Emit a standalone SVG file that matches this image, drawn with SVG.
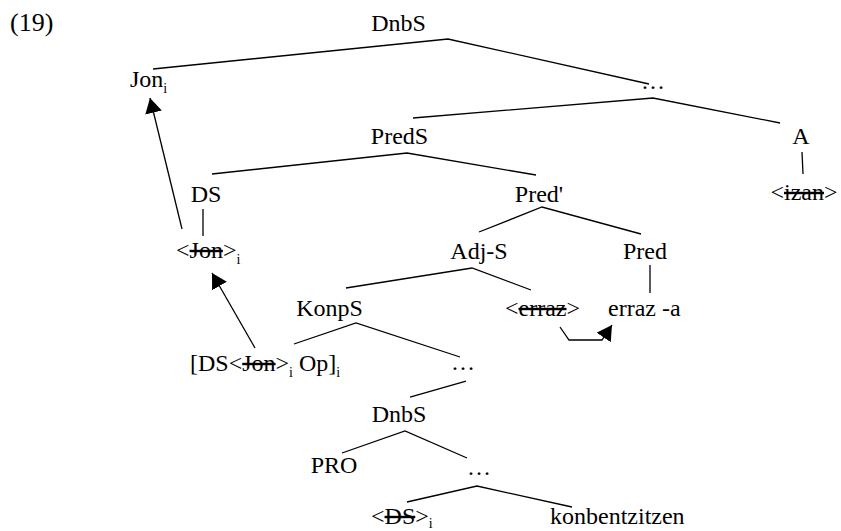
<svg xmlns="http://www.w3.org/2000/svg" width="841" height="531" viewBox="0 0 841 531">
<style>
text{font-family:"Liberation Serif","Times New Roman",serif;font-size:24px;fill:#000}
.m{text-anchor:middle}
.s{font-size:14px}
.x{text-decoration:line-through}
.e{fill:none;stroke:#000;stroke-width:1.3}
.a{fill:none;stroke:#000;stroke-width:1.3;marker-end:url(#ah)}
</style>
<defs>
<marker id="ah" markerUnits="userSpaceOnUse" markerWidth="16" markerHeight="17" refX="15" refY="8.5" orient="auto" viewBox="0 0 16 17">
<path d="M0,0 L15,8.5 L0,17 z" fill="#000"/>
</marker>
</defs>
<text x="10" y="31" style="font-size:26px">(19)</text>
<g id="connectors">
<polyline class="e" points="153,69 448,39 649,84"/>
<polyline class="e" points="413,118 653,98 780,123"/>
<line class="e" x1="802" y1="152" x2="803" y2="174"/>
<polyline class="e" points="212,174 407,153 536,175"/>
<line class="e" x1="203" y1="209" x2="203" y2="236"/>
<polyline class="e" points="479,232 542,207 641,234"/>
<line class="e" x1="650" y1="265" x2="650" y2="293"/>
<polyline class="e" points="346,288 472,268 531,290"/>
<polyline class="e" points="294,344 356,323 460,357"/>
<line class="e" x1="466" y1="381" x2="410" y2="397"/>
<polyline class="e" points="342,453 405,431 467,458"/>
<polyline class="e" points="407,502 477,486 572,507"/>
<line class="a" x1="182" y1="229" x2="150" y2="98"/>
<line class="a" x1="255" y1="348" x2="212" y2="273"/>
<polyline class="a" points="560,327 569,340 602,340 612,325"/>
</g>
<g id="n-dnbs1"><text class="m" x="398.5" y="31">DnbS</text></g>
<g id="n-jon"><text x="130" y="87">Jon<tspan class="s" dy="6">i</tspan></text></g>
<g id="n-dots1"><text class="m" x="653" y="89">…</text></g>
<g id="n-preds"><text class="m" x="399.5" y="144">PredS</text></g>
<g id="n-a"><text class="m" x="801" y="144">A</text></g>
<g id="n-izan"><text class="m" x="804" y="200">&lt;<tspan class="x">izan</tspan>&gt;</text></g>
<g id="n-ds"><text class="m" x="206" y="202">DS</text></g>
<g id="n-predbar"><text class="m" x="539" y="202">Pred'</text></g>
<g id="n-jon2"><text x="176" y="258">&lt;<tspan class="x">Jon</tspan>&gt;<tspan class="s" dy="6">i</tspan></text></g>
<g id="n-adjs"><text class="m" x="479" y="259">Adj-S</text></g>
<g id="n-pred"><text class="m" x="645" y="259">Pred</text></g>
<g id="n-konps"><text class="m" x="329.5" y="316">KonpS</text></g>
<g id="n-erraz1"><text class="m" x="542.5" y="316">&lt;<tspan class="x">erraz</tspan>&gt;</text></g>
<g id="n-erraz2"><text x="608" y="316">erraz -a</text></g>
<g id="n-op"><text x="190" y="371">[DS&lt;<tspan class="x">Jon</tspan>&gt;<tspan class="s" dy="6">i</tspan><tspan dy="-6"> Op]</tspan><tspan class="s" dy="6">i</tspan></text></g>
<g id="n-dots2"><text class="m" x="463" y="370">…</text></g>
<g id="n-dnbs2"><text class="m" x="399" y="422">DnbS</text></g>
<g id="n-pro"><text class="m" x="334" y="473">PRO</text></g>
<g id="n-dots3"><text class="m" x="479" y="475">…</text></g>
<g id="n-ds2"><text x="371" y="524">&lt;<tspan class="x">DS</tspan>&gt;<tspan class="s" dy="4">i</tspan></text></g>
<g id="n-konb"><text x="550" y="524">konbentzitzen</text></g>
</svg>
